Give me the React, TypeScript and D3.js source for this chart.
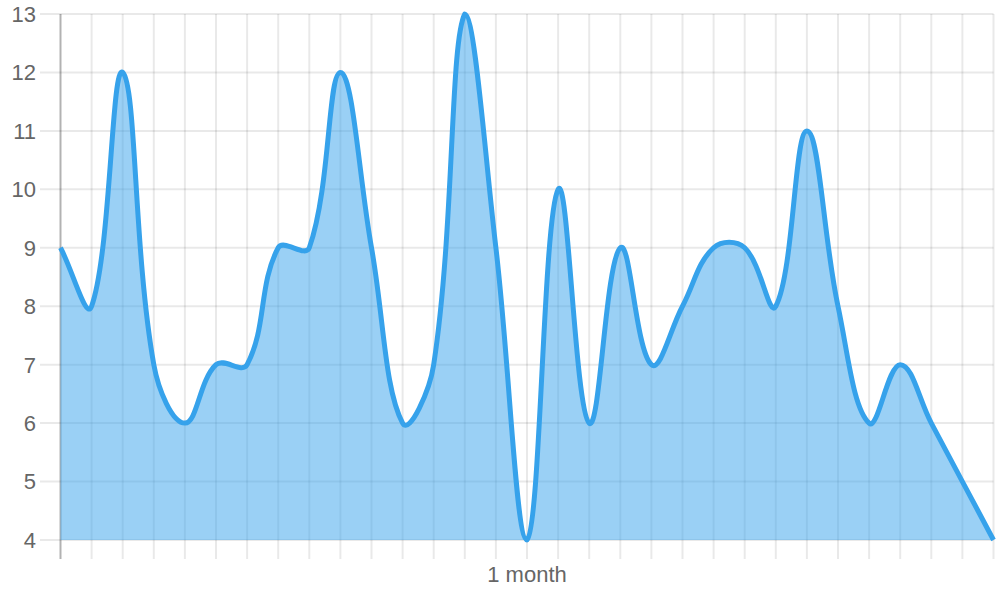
import React from "react";
import * as d3 from "d3";

const dayIndex: number[] = Array.from({ length: 31 }, (_, i) => i);
const values: number[] = [9, 8, 12, 7, 6, 7, 7, 9, 9, 12, 9, 6, 7, 13, 9, 4, 10, 6, 9, 7, 8, 9, 9, 8, 11, 8, 6, 7, 6, 5, 4];
const yTicks: number[] = [4, 5, 6, 7, 8, 9, 10, 11, 12, 13];
const xLabel = "1 month";

const W = 1000;
const H = 600;
const left = 60.5;
const right = 993.5;
const top = 14;
const bottom = 540;

type P = { x: number; y: number };

function splinePath(pts: P[], tension: number): string {
  const n = pts.length;
  const cps: { prev: P; next: P }[] = [];
  for (let i = 0; i < n; i++) {
    const cur = pts[i];
    const prev = i === 0 ? cur : pts[i - 1];
    const next = i === n - 1 ? cur : pts[i + 1];
    const d01 = Math.hypot(cur.x - prev.x, cur.y - prev.y);
    const d12 = Math.hypot(next.x - cur.x, next.y - cur.y);
    let s01 = d01 / (d01 + d12);
    let s12 = d12 / (d01 + d12);
    if (isNaN(s01)) s01 = 0;
    if (isNaN(s12)) s12 = 0;
    const fa = tension * s01;
    const fb = tension * s12;
    const cap = (p: P): P => ({
      x: Math.max(left, Math.min(right, p.x)),
      y: Math.max(top, Math.min(bottom, p.y)),
    });
    cps.push({
      prev: cap({ x: cur.x - fa * (next.x - prev.x), y: cur.y - fa * (next.y - prev.y) }),
      next: cap({ x: cur.x + fb * (next.x - prev.x), y: cur.y + fb * (next.y - prev.y) }),
    });
  }
  let d = `M${pts[0].x},${pts[0].y}`;
  for (let i = 1; i < n; i++) {
    const a = cps[i - 1].next;
    const b = cps[i].prev;
    d += `C${a.x},${a.y},${b.x},${b.y},${pts[i].x},${pts[i].y}`;
  }
  return d;
}

export default function App() {
  const x = d3.scaleLinear().domain([0, dayIndex.length - 1]).range([left, right]);
  const y = d3.scaleLinear().domain([4, 13]).range([bottom, top]);
  const pts: P[] = dayIndex.map((d, i) => ({ x: x(d), y: y(values[i]) }));
  const linePath = splinePath(pts, 0.4);
  const areaPath = `${linePath}L${pts[pts.length - 1].x},${bottom}L${pts[0].x},${bottom}Z`;
  const grid = "rgba(0,0,0,0.085)";
  return (
    <svg
      width={W}
      height={H}
      style={{ position: "absolute", left: 0, top: 0 }}
      fontFamily="'Liberation Sans', Arial, sans-serif"
    >
      <rect width={W} height={H} fill="#fff" />
      {yTicks.map((t) => (
        <line key={"h" + t} x1={40} x2={right} y1={y(t)} y2={y(t)} stroke={grid} strokeWidth={2} />
      ))}
      {dayIndex.slice(1).map((d) => (
        <line key={"v" + d} x1={x(d)} x2={x(d)} y1={top} y2={559} stroke={grid} strokeWidth={2} />
      ))}
      <line x1={left} x2={left} y1={top} y2={559} stroke="rgba(0,0,0,0.3)" strokeWidth={2} />
      <path d={areaPath} fill="rgba(54,162,235,0.5)" />
      <path d={linePath} fill="none" stroke="#36A2EB" strokeWidth={5} strokeLinejoin="round" strokeLinecap="butt" />
      {yTicks.map((t) => (
        <text key={"t" + t} x={36} y={y(t)} dy="0.36em" textAnchor="end" fontSize={22} fill="#666">
          {t}
        </text>
      ))}
      <text x={(left + right) / 2} y={582} textAnchor="middle" fontSize={22} fill="#666">
        {xLabel}
      </text>
    </svg>
  );
}
